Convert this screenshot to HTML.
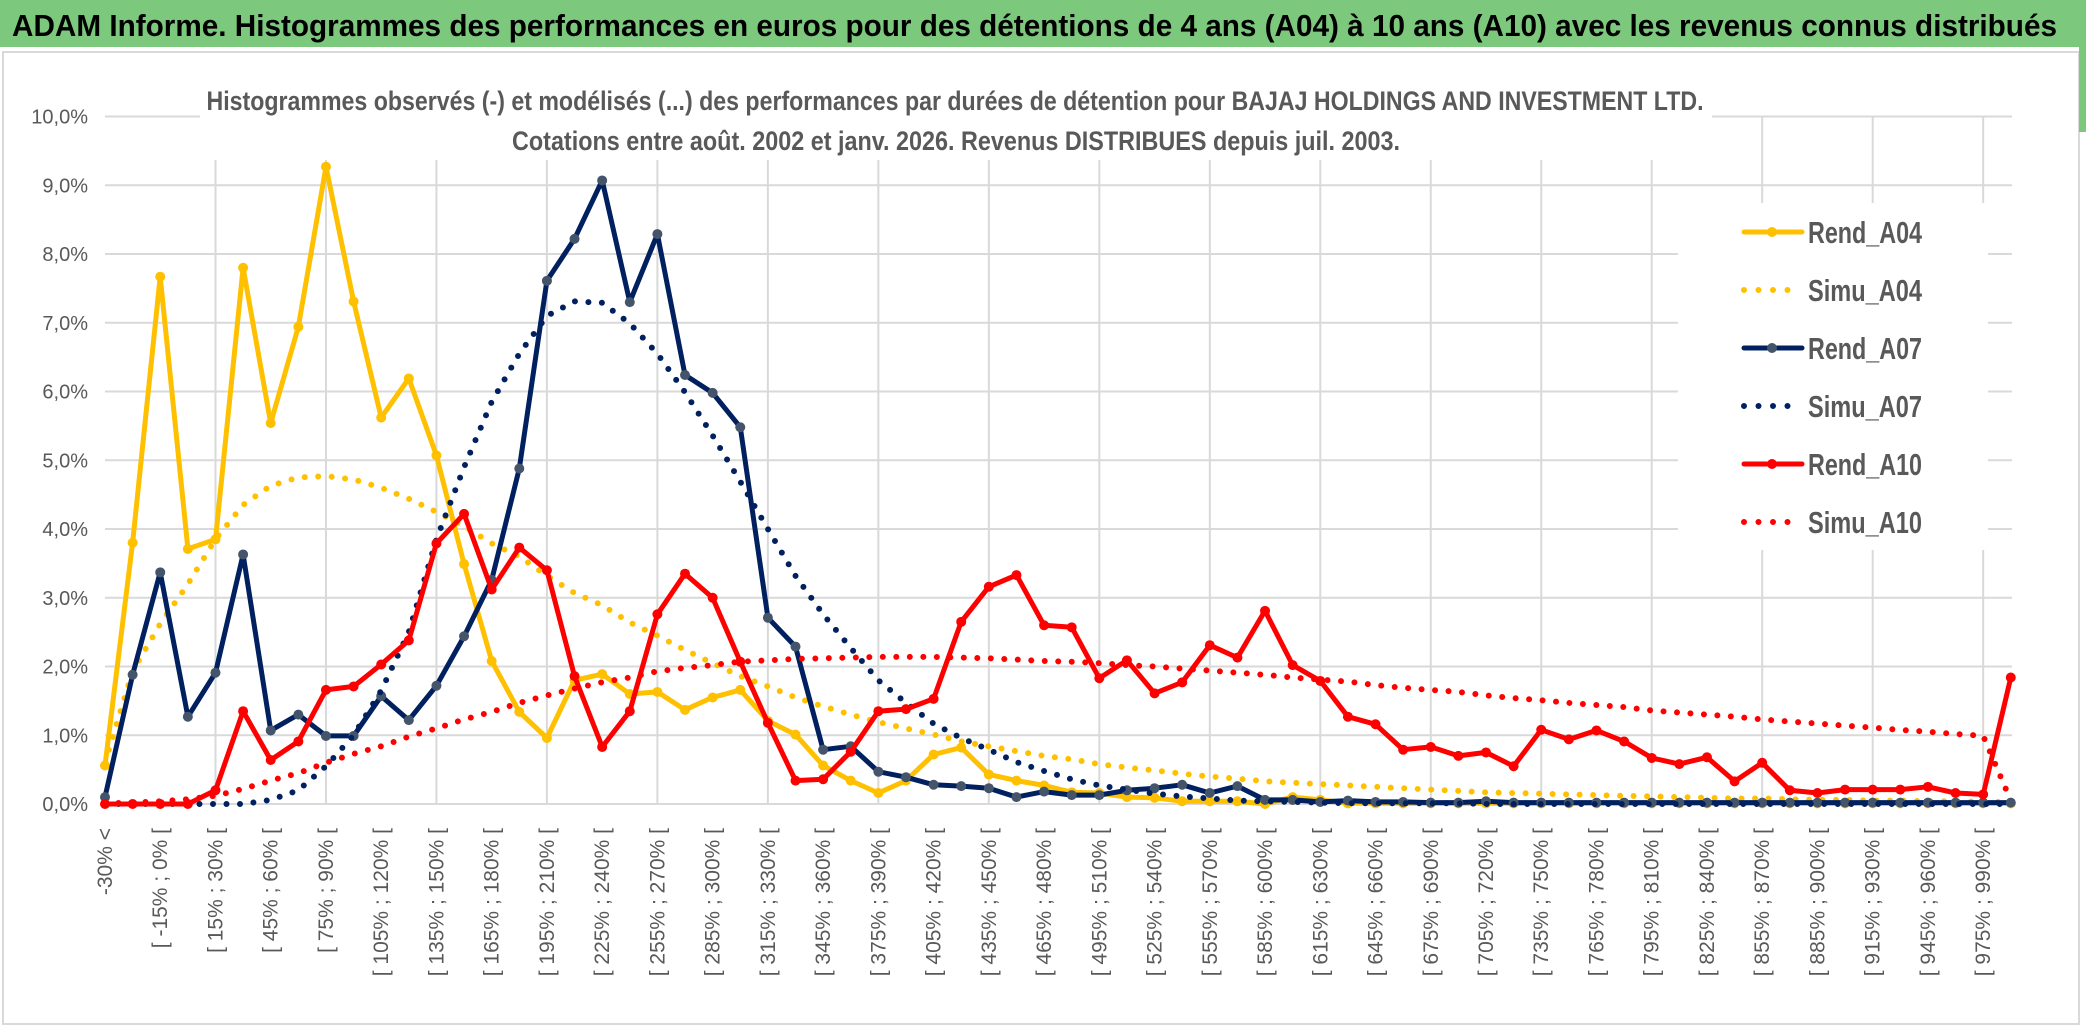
<!DOCTYPE html>
<html><head><meta charset="utf-8"><style>
html,body{margin:0;padding:0;background:#fff;}
svg{display:block;font-family:"Liberation Sans Narrow","Liberation Sans",sans-serif;}
</style></head><body>
<svg id="chart" width="2086" height="1031" viewBox="0 0 2086 1031">
<rect x="0" y="0" width="2086" height="1031" fill="#fff"/>
<rect x="0" y="0" width="2086" height="47" fill="#7cc87c"/>
<text x="12" y="36" font-size="31" font-weight="bold" fill="#000" textLength="2045" lengthAdjust="spacingAndGlyphs">ADAM Informe. Histogrammes des performances en euros pour des détentions de 4 ans (A04) à 10 ans (A10) avec les revenus connus distribués</text>
<rect x="3" y="52" width="2076" height="972" fill="none" stroke="#d9d9d9" stroke-width="2"/>
<rect x="2079" y="47" width="7" height="85" fill="#7cc87c"/>
<g id="grid"></g>
<rect x="200" y="78" width="1512" height="82" fill="#fff"/>
<text x="955" y="110" font-size="27" font-weight="bold" fill="#595959" text-anchor="middle" textLength="1497" lengthAdjust="spacingAndGlyphs">Histogrammes observés (-) et modélisés (...) des performances par durées de détention pour BAJAJ HOLDINGS AND INVESTMENT LTD.</text>
<text x="956" y="150" font-size="27" font-weight="bold" fill="#595959" text-anchor="middle" textLength="888" lengthAdjust="spacingAndGlyphs">Cotations entre août. 2002 et janv. 2026. Revenus DISTRIBUES depuis juil. 2003.</text>
<g id="yaxis"></g>
<g id="xaxis"></g>
<g id="series"></g>
<g id="legend"></g>
</svg>
<script>
const rendA04 = [0.56,3.8,7.67,3.71,3.85,7.8,5.54,6.94,9.27,7.31,5.62,6.19,5.07,3.49,2.08,1.34,0.96,1.8,1.89,1.6,1.63,1.37,1.55,1.66,1.21,1.01,0.56,0.34,0.16,0.34,0.72,0.82,0.43,0.34,0.27,0.17,0.16,0.1,0.09,0.04,0.04,0.04,0,0.1,0.06,0.01,0.01,0.01,0.01,0.01,0.01,0.01,0.01,0.01,0.01,0.01,0.01,0.01,0.01,0.01,0.01,0.01,0.01,0.01,0.01,0.01,0.01,0.01,0.01,0.01];
const simuA04 = [0.6,1.93,2.62,3.2,3.85,4.35,4.63,4.75,4.77,4.72,4.6,4.44,4.25,4.04,3.79,3.6,3.32,3.07,2.89,2.64,2.45,2.24,2.05,1.86,1.71,1.55,1.42,1.3,1.19,1.1,1.01,0.91,0.84,0.77,0.7,0.65,0.58,0.53,0.49,0.44,0.4,0.37,0.33,0.31,0.29,0.27,0.25,0.23,0.21,0.19,0.17,0.16,0.15,0.14,0.13,0.12,0.11,0.1,0.09,0.08,0.08,0.07,0.06,0.06,0.05,0.05,0.04,0.04,0.03,0.03];
const rendA07 = [0.1,1.88,3.37,1.27,1.91,3.63,1.07,1.3,0.99,0.99,1.57,1.22,1.72,2.44,3.26,4.88,7.61,8.22,9.07,7.3,8.29,6.24,5.98,5.48,2.71,2.29,0.79,0.84,0.47,0.39,0.28,0.26,0.23,0.1,0.18,0.13,0.13,0.2,0.23,0.28,0.16,0.26,0.06,0.06,0.03,0.05,0.03,0.03,0.02,0.02,0.04,0.02,0.02,0.02,0.02,0.02,0.02,0.02,0.02,0.02,0.02,0.02,0.02,0.02,0.02,0.02,0.02,0.02,0.02,0.02];
const simuA07 = [0,0,0,0,0,0,0.06,0.2,0.55,1.0,1.65,2.5,3.85,4.9,5.85,6.55,7.1,7.31,7.29,6.99,6.55,5.99,5.36,4.69,4.0,3.32,2.76,2.27,1.8,1.47,1.17,0.96,0.79,0.61,0.48,0.36,0.27,0.21,0.15,0.11,0.08,0.05,0.04,0.03,0.02,0.01,0.01,0.01,0.01,0.01,0,0,0,0,0,0,0,0,0,0,0,0,0,0,0,0,0,0,0,0];
const rendA10 = [0,0,0,0,0.2,1.35,0.64,0.91,1.66,1.71,2.03,2.38,3.79,4.22,3.12,3.73,3.4,1.86,0.83,1.35,2.76,3.35,3.0,2.07,1.18,0.34,0.36,0.76,1.35,1.38,1.53,2.65,3.16,3.33,2.6,2.57,1.83,2.09,1.61,1.77,2.31,2.13,2.81,2.02,1.79,1.27,1.16,0.79,0.83,0.7,0.75,0.55,1.08,0.94,1.07,0.91,0.67,0.58,0.68,0.33,0.6,0.2,0.16,0.21,0.21,0.21,0.25,0.16,0.14,1.84];
const simuA10 = [0.01,0.02,0.04,0.07,0.12,0.22,0.34,0.45,0.6,0.73,0.84,0.98,1.1,1.23,1.34,1.47,1.58,1.68,1.77,1.84,1.93,1.98,2.02,2.07,2.09,2.11,2.12,2.13,2.14,2.14,2.14,2.13,2.12,2.1,2.08,2.07,2.05,2.02,2.0,1.97,1.94,1.91,1.88,1.84,1.81,1.78,1.73,1.69,1.66,1.63,1.58,1.54,1.51,1.47,1.44,1.41,1.36,1.33,1.3,1.27,1.23,1.2,1.17,1.14,1.11,1.08,1.05,1.02,0.99,0.05];
const yTicks = ["0,0%","1,0%","2,0%","3,0%","4,0%","5,0%","6,0%","7,0%","8,0%","9,0%","10,0%"];
const categories = ["-30% <"];
for (let a = -30; a <= 990; a += 15) categories.push("[ " + a + "% ; " + (a + 15) + "% [");

const NS = "http://www.w3.org/2000/svg";
const X0 = 105, DX = 27.62, Y0 = 804, DY = 68.75;
function xs(i){ return X0 + DX * i; }
function ys(v){ return Y0 - DY * v; }
function mk(tag, attrs, parent){ const e = document.createElementNS(NS, tag); for (const k in attrs) e.setAttribute(k, attrs[k]); parent.appendChild(e); return e; }

const grid = document.getElementById('grid');
yTicks.forEach((t, k) => {
  const l = mk('line', {x1: X0, x2: 2012, y1: ys(k), y2: ys(k), stroke: '#d9d9d9', 'stroke-width': 2}, grid);
  
  
});
for (let i = 4; i < categories.length; i += 4) {
  const l = mk('line', {x1: xs(i), x2: xs(i), y1: ys(10), y2: Y0, stroke: '#d9d9d9', 'stroke-width': 2}, grid);
  
  
}
const yaxis = document.getElementById('yaxis');
yTicks.forEach((t, k) => {
  const e = mk('text', {x: 88, y: ys(k) + 7, 'font-size': 20, fill: '#595959', 'text-anchor': 'end'}, yaxis);
  e.textContent = t;
  
  
});
const xaxis = document.getElementById('xaxis');
categories.forEach((c, i) => {
  if (i % 2 !== 0) return;
  const x = xs(i) + 7, y = 828;
  const e = mk('text', {x: x, y: y, 'font-size': 21, fill: '#595959', 'text-anchor': 'end', transform: 'rotate(-90 ' + x + ' ' + y + ')', 'font-family': '"Liberation Sans",sans-serif'}, xaxis);
  e.textContent = c;
  
  
});

const series = document.getElementById('series');
function drawLine(vals, color, name){
  const pts = vals.map((v, i) => xs(i).toFixed(1) + ',' + ys(v).toFixed(1)).join(' ');
  const p = mk('polyline', {points: pts, fill: 'none', stroke: color, 'stroke-width': 5, 'stroke-linejoin': 'round'}, series);
  
  
}
function drawMarkers(vals, color, name){
  vals.forEach((v, i) => {
    const c = mk('circle', {cx: xs(i), cy: ys(v), r: 5, fill: color}, series);
    
    
  });
}
function drawDots(vals, color, name){
  const pts = vals.map((v, i) => xs(i).toFixed(1) + ',' + ys(v).toFixed(1)).join(' ');
  const p = mk('polyline', {points: pts, fill: 'none', stroke: color, 'stroke-width': 6, 'stroke-linecap': 'round', 'stroke-dasharray': '0 13.5'}, series);
  
  
}
drawLine(rendA04, '#ffc000', 'rend-a04'); drawMarkers(rendA04, '#ffc000', 'rend-a04');
drawDots(simuA04, '#ffc000', 'simu-a04');
drawLine(rendA07, '#002060', 'rend-a07'); drawMarkers(rendA07, '#44546a', 'rend-a07');
drawDots(simuA07, '#002060', 'simu-a07');
drawLine(rendA10, '#ff0000', 'rend-a10'); drawMarkers(rendA10, '#ff0000', 'rend-a10');
drawDots(simuA10, '#ff0000', 'simu-a10');

const legend = document.getElementById('legend');
const lb = mk('rect', {x: 1678, y: 203, width: 310, height: 347, fill: '#fff'}, legend);


const legNames = ['Rend_A04','Simu_A04','Rend_A07','Simu_A07','Rend_A10','Simu_A10'];
const legColors = ['#ffc000','#ffc000','#002060','#002060','#ff0000','#ff0000'];
legNames.forEach((n, k) => {
  const y = 232 + k * 58;
  const g = mk('g', {}, legend);
  
  
  if (k % 2 === 0) {
    mk('line', {x1: 1744, x2: 1802, y1: y, y2: y, stroke: legColors[k], 'stroke-width': 5, 'stroke-linecap': 'round'}, g);
    mk('circle', {cx: 1772, cy: y, r: 5, fill: k === 2 ? '#44546a' : legColors[k]}, g);
  } else {
    mk('line', {x1: 1744, x2: 1798, y1: y, y2: y, stroke: legColors[k], 'stroke-width': 6, 'stroke-linecap': 'round', 'stroke-dasharray': '0 14.5'}, g);
  }
  const t = mk('text', {x: 1808, y: y + 11, 'font-size': 31, 'font-weight': 'bold', fill: '#595959', textLength: 114, lengthAdjust: 'spacingAndGlyphs'}, g);
  t.textContent = n;
});
</script>
</body></html>
